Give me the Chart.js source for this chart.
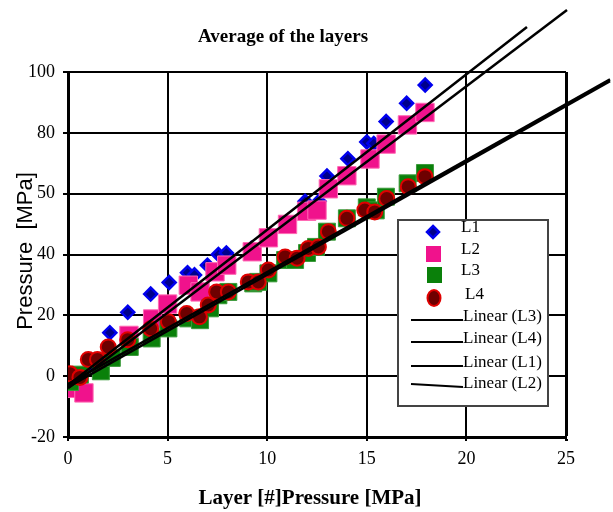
<!DOCTYPE html>
<html><head><meta charset="utf-8">
<script src="https://cdn.jsdelivr.net/npm/chart.js@4/dist/chart.umd.min.js"></script>
<style>html,body{margin:0;padding:0;background:#fff}#wrap{width:613px;height:512px;position:relative}</style>
</head><body><div id="wrap"><canvas id="c" width="613" height="512"></canvas></div>
<script>
const chartTitle = 'Average of the layers';
const xAxisTitle = 'Layer [#]Pressure [MPa]';
const yAxisTitle = 'Pressure  [MPa]';
const yTickLabels = ['-20', '0', '20', '40', '50', '80', '100'];
const seriesNames = ['L1', 'L2', 'L3', 'L4'];
const trendNames = ['Linear (L3)', 'Linear (L4)', 'Linear (L1)', 'Linear (L2)'];

const l1X = [0.1, 0.6, 1.1, 2.1, 3.0, 4.15, 5.08, 6.0, 6.35, 7.0, 7.55, 7.95, 9.2, 10.0, 11.0, 11.9, 12.6, 13.0, 14.05, 15.0, 15.35, 15.97, 17.0, 17.93];
const l1Y = [0.5, -1, 4, 14.3, 21, 27, 30.8, 34, 33.3, 36.5, 40, 40.5, 42, 46, 50.5, 57.5, 57.5, 65.8, 71.5, 77, 76.5, 83.7, 89.7, 95.7];

const l2X = [0.3, 0.8, 3.06, 4.25, 5.0, 6.04, 6.63, 7.38, 7.97, 9.25, 10.06, 11.02, 11.98, 12.5, 13.07, 14.0, 15.16, 15.97, 17.04, 17.92];
const l2Y = [-4, -5.5, 13.4, 18.8, 23.7, 29.9, 27.7, 34.3, 36.5, 40.9, 45.5, 49.9, 54.2, 54.6, 61.6, 65.9, 71.4, 76.3, 82.6, 86.7];

const l3X = [0.1, 0.6, 1.65, 2.2, 3.1, 4.2, 5.04, 6.04, 6.63, 7.13, 7.55, 8.05, 9.3, 9.55, 10.06, 10.9, 11.4, 12.0, 12.45, 13.0, 14.0, 15.0, 15.45, 15.96, 17.05, 17.92];
const l3Y = [-1.9, 0.5, 1.6, 6, 9.6, 12.4, 15.7, 19, 18.4, 22.3, 26.6, 27.7, 30.5, 31, 33.8, 38.2, 38.2, 40.5, 42.5, 47.5, 51.9, 55.5, 54.5, 59, 63.4, 66.8];

const l4X = [0.1, 0.6, 1.02, 1.48, 2.02, 3.0, 4.15, 5.04, 5.96, 6.6, 7.04, 7.46, 8.05, 9.05, 9.55, 10.06, 10.9, 11.5, 12.06, 12.57, 13.07, 14.0, 14.9, 15.4, 16.0, 17.08, 17.92];
const l4Y = [0.8, -0.4, 5.5, 5.5, 9.6, 12, 15.6, 17.9, 20.6, 19.5, 23.4, 27.7, 27.7, 31, 31, 34.9, 39.2, 38.8, 42, 42.5, 47.5, 51.9, 54.6, 54, 58.4, 62.3, 65.6];

const trendL1X = [0, 23.04], trendL1Y = [-3, 114.8];
const trendL2X = [0, 25.05], trendL2Y = [-4, 120.4];
const trendL3X = [0, 27.21], trendL3Y = [-3.6, 97.0];
const trendL4X = [0, 27.21], trendL4Y = [-2.6, 97.6];

const pts = (xs, ys) => xs.map((x, i) => ({x, y: ys[i]}));

const serif = "'Liberation Serif', 'DejaVu Serif', serif";
const sans = "'Liberation Sans', Arial, sans-serif";

const decor = {
  id: 'decor',
  afterDraw(chart) {
    const ctx = chart.ctx;
    ctx.save();
    ctx.fillStyle = '#000';
    ctx.textAlign = 'center';
    ctx.textBaseline = 'middle';
    ctx.font = 'bold 19px ' + serif;
    ctx.fillText(chartTitle, 283, 37);
    ctx.font = 'bold 21px ' + serif;
    ctx.fillText(xAxisTitle, 310, 499);
    ctx.save();
    ctx.translate(26, 251);
    ctx.rotate(-Math.PI / 2);
    ctx.font = '22px ' + sans;
    ctx.fillText(yAxisTitle, 0, 0);
    ctx.restore();

    // legend box
    const bx = 398, by = 220, bw = 150, bh = 186;
    ctx.fillStyle = '#fff';
    ctx.fillRect(bx, by, bw, bh);
    ctx.strokeStyle = '#444';
    ctx.lineWidth = 2;
    ctx.strokeRect(bx, by, bw, bh);

    // L1 diamond
    ctx.beginPath();
    ctx.moveTo(433, 226); ctx.lineTo(439, 232); ctx.lineTo(433, 238); ctx.lineTo(427, 232); ctx.closePath();
    ctx.fillStyle = '#00008b'; ctx.fill();
    ctx.strokeStyle = '#0000ee'; ctx.lineWidth = 2.5; ctx.stroke();
    // L2 square
    ctx.fillStyle = '#f0128c'; ctx.fillRect(426, 246, 15, 16);
    // L3 square
    ctx.fillStyle = '#0a800a'; ctx.fillRect(427, 267, 15, 16);
    // L4 circle
    ctx.beginPath(); ctx.ellipse(434, 298, 6.5, 8, 0, 0, Math.PI * 2);
    ctx.fillStyle = '#6e0000'; ctx.fill();
    ctx.strokeStyle = '#e00000'; ctx.lineWidth = 2; ctx.stroke();

    ctx.fillStyle = '#000';
    ctx.textAlign = 'left';
    ctx.font = '17px ' + serif;
    ctx.fillText(seriesNames[0], 461, 228);
    ctx.fillText(seriesNames[1], 461, 250);
    ctx.fillText(seriesNames[2], 461, 271);
    ctx.fillText(seriesNames[3], 465, 295);

    const ly = [[320, 320], [342, 342], [366, 366], [384, 387]];
    ctx.strokeStyle = '#000'; ctx.lineWidth = 2;
    ly.forEach((l, i) => {
      ctx.beginPath(); ctx.moveTo(411, l[0]); ctx.lineTo(463, l[1]); ctx.stroke();
      ctx.fillText(trendNames[i], 463, [317, 339, 363, 384][i]);
    });
    ctx.restore();
  }
};

const trendDs = (label, xs, ys, w) => ({
  type: 'line', label, data: pts(xs, ys), borderColor: '#000', borderWidth: w,
  pointRadius: 0, showLine: true, fill: false, clip: false, order: 0, tension: 0
});

new Chart(document.getElementById('c'), {
  type: 'scatter',
  data: {
    datasets: [
      {label: 'L1', data: pts(l1X, l1Y), pointStyle: 'rectRot', pointRadius: 6.5, backgroundColor: '#00008b', borderColor: '#0000ee', borderWidth: 2.5, order: 4},
      {label: 'L2', data: pts(l2X, l2Y), pointStyle: 'rect', pointRadius: 13, backgroundColor: '#f0128c', borderColor: '#ff6ab4', borderWidth: 1, order: 3},
      {label: 'L3', data: pts(l3X, l3Y), pointStyle: 'rect', pointRadius: 12, backgroundColor: '#0a800a', borderColor: '#3a9a3a', borderWidth: 1, order: 2},
      {label: 'L4', data: pts(l4X, l4Y), pointStyle: 'circle', pointRadius: 7.5, backgroundColor: '#6e0000', borderColor: '#e00000', borderWidth: 2, order: 1},
      trendDs('Linear (L3)', trendL3X, trendL3Y, 2.5),
      trendDs('Linear (L4)', trendL4X, trendL4Y, 2.5),
      trendDs('Linear (L1)', trendL1X, trendL1Y, 2.5),
      trendDs('Linear (L2)', trendL2X, trendL2Y, 2.5)
    ]
  },
  options: {
    responsive: false, animation: false, devicePixelRatio: 1,
    layout: {padding: {left: 0, top: 72, right: 47, bottom: 0}},
    plugins: {legend: {display: false}, tooltip: {enabled: false}, title: {display: false}},
    scales: {
      x: {
        type: 'linear', min: 0, max: 25,
        afterFit: s => { s.height = 75; },
        ticks: {stepSize: 5, color: '#000', font: {family: serif, size: 18}, padding: 7, maxRotation: 0},
        grid: {color: '#000', lineWidth: c => (c.tick && c.tick.value === 25 ? 3 : 2), tickLength: 4},
        border: {display: true, color: '#000', width: 3}
      },
      y: {
        type: 'linear', min: -20, max: 100,
        afterFit: s => { s.width = 68; },
        ticks: {stepSize: 20, color: '#000', font: {family: serif, size: 18}, padding: 8,
          callback: (v, i) => yTickLabels[i]},
        grid: {color: '#000', lineWidth: 2, tickLength: 5},
        border: {display: true, color: '#000', width: 3}
      }
    }
  },
  plugins: [decor]
});
</script></body></html>
